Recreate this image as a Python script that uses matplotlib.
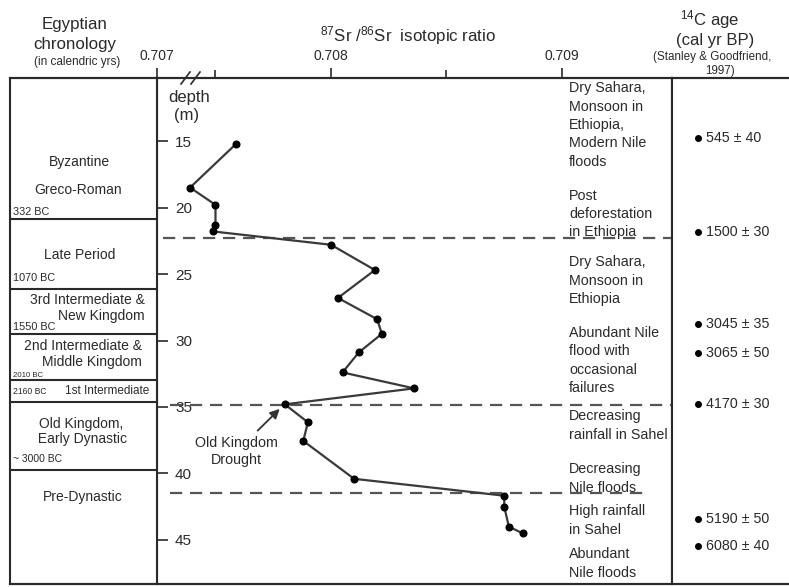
import matplotlib.pyplot as plt
from matplotlib.lines import Line2D

plt.rcParams['font.family'] = ['Liberation Sans', 'DejaVu Sans']
plt.rcParams['mathtext.fontset'] = 'custom'
plt.rcParams['mathtext.rm'] = 'Liberation Sans'
plt.rcParams['mathtext.default'] = 'regular'

# 87Sr/86Sr profile
depth = [15.2, 18.5, 19.8, 21.3, 21.8, 22.8, 24.7, 26.8, 28.4, 29.5, 30.9,
         32.4, 33.6, 34.8, 36.15, 37.55, 40.4, 41.67, 42.5, 44.0, 44.5]
sr = [0.70759, 0.70739, 0.70750, 0.70750, 0.70749, 0.70800, 0.70819,
      0.70803, 0.70820, 0.70822, 0.70812, 0.70805, 0.70836, 0.70780,
      0.70790, 0.70788, 0.70810, 0.70875, 0.70875, 0.70877, 0.70883]

# dashed climate boundaries (depth, x from, x to)
breaks = [(22.3, 0.707273, None), (34.85, 0.707303, None), (41.5, 0.707303, 0.709368)]

# Egyptian chronology column
chron_lines = [20.86, 26.1, 29.5, 33.0, 34.6, 39.7]
periods = [(16.58, 'Byzantine', 79, 'center'), (18.68, 'Greco-Roman', 78, 'center'),
           (23.57, 'Late Period', 80, 'center'),
           (27.56, '3rd Intermediate &\nNew Kingdom', 145, 'right'),
           (31.0, '2nd Intermediate &\nMiddle Kingdom', 142, 'right'),
           (36.84, 'Old Kingdom,\n Early Dynastic', 81, 'center'),
           (41.77, 'Pre-Dynastic', 83, 'center')]
dates = [(20.34, '332 BC', 7.8), (25.3, '1070 BC', 7.8), (28.98, '1550 BC', 7.8),
         (32.6, '2010 BC', 5.6), (33.8, '2160 BC', 6.2), (38.9, '~ 3000 BC', 7.5)]

# climate interpretation
climate = [(13.8, 'Dry Sahara,\nMonsoon in\nEthiopia,\nModern Nile\nfloods'),
           (20.49, 'Post\ndeforestation\nin Ethiopia'),
           (25.49, 'Dry Sahara,\nMonsoon in\nEthiopia'),
           (31.5, 'Abundant Nile\nflood with\noccasional\nfailures'),
           (36.39, 'Decreasing\nrainfall in Sahel'),
           (40.38, 'Decreasing\nNile floods'),
           (43.53, 'High rainfall\nin Sahel'),
           (46.77, 'Abundant\nNile floods')]

# 14C ages
age_depth = [14.77, 21.84, 28.76, 30.94, 34.77, 43.4, 45.45]
age_text = ['545 ± 40', '1500 ± 30', '3045 ± 35', '3065 ± 50',
            '4170 ± 30', '5190 ± 50', '6080 ± 40']

W, H = 789, 587
ink = '#2a2a2a'
x_left, x_right = 0.7072468, 0.7094762
d_top, d_bot = 10.26, 48.31


def box(x0, x1, y0=78, y1=584):
    return [x0 / W, 1 - y1 / H, (x1 - x0) / W, (y1 - y0) / H]


fig = plt.figure(figsize=(W / 100, H / 100), dpi=100)
ax = fig.add_axes(box(157, 672))
ax_l = fig.add_axes(box(10, 157), sharey=ax)
ax_r = fig.add_axes(box(672, 789), sharey=ax)

for a in (ax, ax_l, ax_r):
    for s in a.spines.values():
        s.set_color(ink)
        s.set_linewidth(1.5)
ax_r.spines['right'].set_visible(False)

ax.set_xlim(x_left, x_right)
ax.set_ylim(d_bot, d_top)

# profile
ax.plot(sr, depth, color='#3a3a3a', lw=1.6, marker='o', ms=4.8,
        mfc='black', mec='black', zorder=3)

for d, x0, x1 in breaks:
    ax.hlines(d, x0, x1 if x1 else x_right, colors='#555555', lw=1.6,
              linestyles=(0, (5.5, 3.5)))

# top axis with break
ax.xaxis.tick_top()
ax.set_xticks([x_left, 0.708, 0.709])
ax.set_xticklabels(['0.707', '0.708', '0.709'])
ax.set_xticks([0.7075, 0.7085], minor=True)
ax.tick_params(axis='x', which='both', direction='out', colors=ink,
               labelsize=10, pad=4)
ax.tick_params(axis='x', which='major', length=7, width=1.2)
ax.tick_params(axis='x', which='minor', length=6, width=1.2)
for xs in ((181, 190), (191, 200)):
    ax.plot([(xs[0] - 157) / 515, (xs[1] - 157) / 515],
            [1 - 6 / 506, 1 + 6 / 506], transform=ax.transAxes,
            color=ink, lw=1.2, clip_on=False)

ax.set_yticks([15, 20, 25, 30, 35, 40, 45])
ax.tick_params(axis='y', direction='in', length=8, width=1.2, colors=ink,
               labelsize=11, pad=-13)
plt.setp(ax.get_yticklabels(), ha='left')

ax.text(0.707385, 11.69, 'depth', ha='center', va='center', fontsize=12, color=ink)
ax.text(0.707375, 13.05, '(m)', ha='center', va='center', fontsize=12, color=ink)

ax.annotate('Old Kingdom\nDrought', xy=(0.707795, 34.85), xytext=(0.707590, 38.36),
            ha='center', va='center', fontsize=10.3, color=ink, linespacing=1.25,
            arrowprops=dict(arrowstyle='-|>', color='#333333', lw=1.3,
                            mutation_scale=14, shrinkA=3, shrinkB=4))

for d, t in climate:
    ax.text(0.70903, d, t, ha='left', va='center', fontsize=10.3,
            color=ink, linespacing=1.4)

# chronology column
ax_l.set_xlim(10, 157)
ax_l.tick_params(left=False, labelleft=False, bottom=False, labelbottom=False)
for d in chron_lines:
    ax_l.axhline(d, color=ink, lw=1.5)
for d, t, x, al in periods:
    ax_l.text(x, d, t, ha=al, multialignment=al, va='center', fontsize=10,
              color=ink, linespacing=1.15)
for d, t, fs in dates:
    ax_l.text(13, d, t, ha='left', va='center', fontsize=fs, color=ink)
ax_l.text(65, 33.8, '1st Intermediate', ha='left', va='center', fontsize=8.5, color=ink)

# 14C column
ax_r.set_xlim(672, 789)
ax_r.tick_params(left=False, labelleft=False, bottom=False, labelbottom=False)
ax_r.plot([698] * len(age_depth), age_depth, 'o', color='black', ms=4)
for d, t in zip(age_depth, age_text):
    ax_r.text(706, d, t, ha='left', va='center', fontsize=10.3, color=ink)

# frame across the full width
for y in (78, 584):
    fig.add_artist(Line2D([10 / W, 1], [1 - y / H] * 2, color=ink, lw=1.5))

# headers
fig.text(75 / W, 1 - 25 / H, 'Egyptian', ha='center', va='center', fontsize=12.2, color=ink)
fig.text(75 / W, 1 - 45 / H, 'chronology', ha='center', va='center', fontsize=12.2, color=ink)
fig.text(77 / W, 1 - 62 / H, '(in calendric yrs)', ha='center', va='center', fontsize=8.5, color=ink)
fig.text(408 / W, 1 - 36 / H, r'$^{87}$Sr /$^{86}$Sr  isotopic ratio', ha='center',
         va='center', fontsize=12.2, color=ink)
fig.text(710 / W, 1 - 20 / H, r'$^{14}$C age', ha='center', va='center', fontsize=12, color=ink)
fig.text(715 / W, 1 - 40 / H, '(cal yr BP)', ha='center', va='center', fontsize=12, color=ink)
fig.text(712 / W, 1 - 57 / H, '(Stanley & Goodfriend,', ha='center', va='center', fontsize=8.4, color=ink)
fig.text(720 / W, 1 - 71 / H, '1997)', ha='center', va='center', fontsize=8.4, color=ink)

fig.savefig('out.png', dpi=100)
